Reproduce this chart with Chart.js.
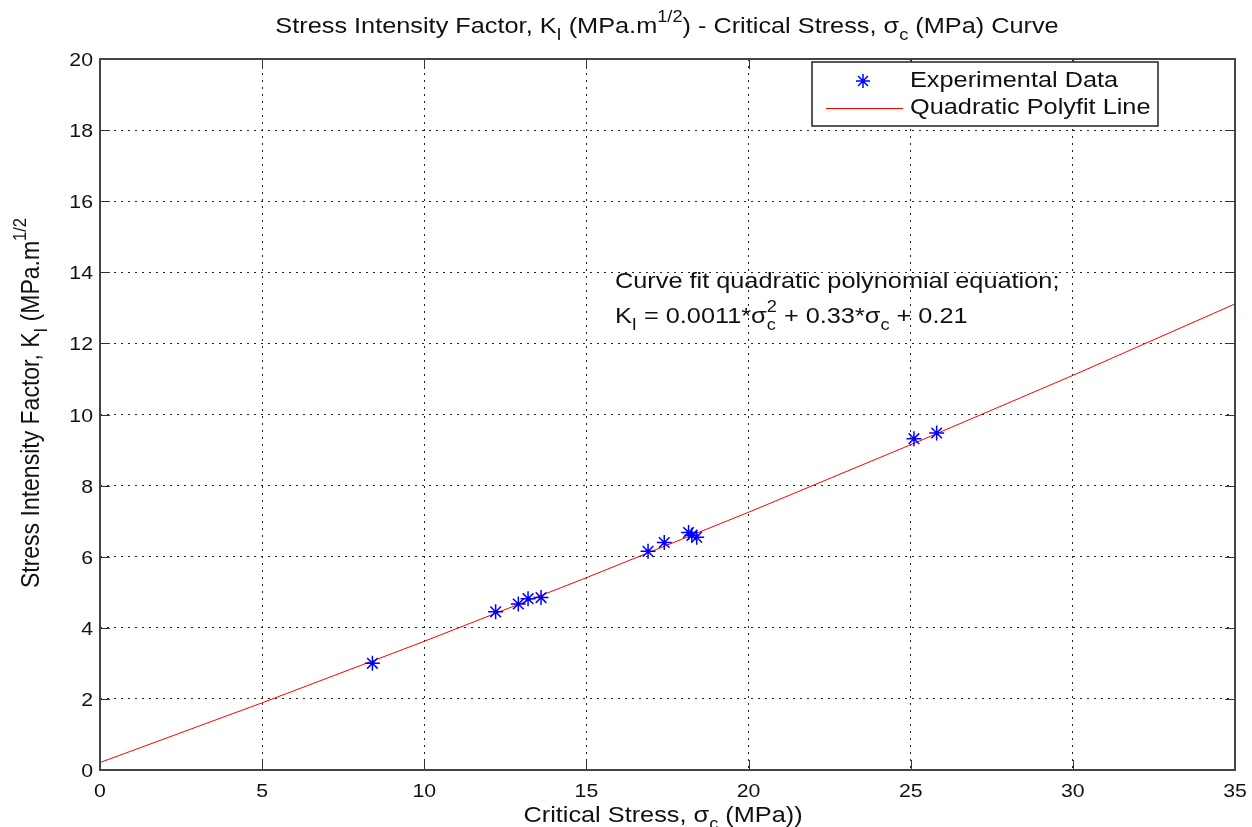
<!DOCTYPE html>
<html>
<head>
    <title>Stress Intensity Factor - Critical Stress Curve</title>
    <script src="https://cdn.jsdelivr.net/npm/chart.js@4.4.0/dist/chart.umd.min.js"></script>
    <style>
        body { margin: 0; background: #fff; }
        canvas { display: block; }
    </style>
</head>
<body>
    <canvas id="myChart" width="1252" height="827"></canvas>

    <script>
        // Data
        const stressX = [8.4, 12.2, 12.9, 13.2, 13.6, 16.9, 17.4, 18.15, 18.25, 18.4, 25.1, 25.8];
        const kValues = [3.0, 4.45, 4.67, 4.82, 4.85, 6.15, 6.4, 6.68, 6.6, 6.55, 9.32, 9.48];

        // Polyfit line, read at every 5 MPa
        const fitX = [0, 5, 10, 15, 20, 25, 30, 35];
        const fitK = [0.21, 1.89, 3.62, 5.41, 7.25, 9.15, 11.1, 13.11];

        const xTicks = [0, 5, 10, 15, 20, 25, 30, 35];
        const yTicks = [0, 2, 4, 6, 8, 10, 12, 14, 16, 18, 20];

        const FONT = '"Liberation Sans", Arial, sans-serif';
        const FS = 22;      // labels
        const TFS = 18.5;   // tick labels
        const SX = 1.15;    // the original text is a bit wide

        // text made of pieces, some sub/superscript
        function partStyle(p, size) {
            if (p[1] === 'sub') return { s: size * 0.72, dy: size * 0.32 };
            if (p[1] === 'sup' || p[1] === 'sup2') return { s: size * 0.72, dy: -size * 0.48 };
            return { s: size, dy: 0 };
        }
        function richWidth(ctx, parts, size) {
            let w = 0, last = 0;
            parts.forEach(p => {
                const st = partStyle(p, size);
                ctx.font = st.s + 'px ' + FONT;
                if (p[1] === 'sup2') w -= last;
                last = ctx.measureText(p[0]).width;
                w += last;
            });
            return w;
        }
        function richText(ctx, parts, x, y, size) {
            let cx = x, last = 0;
            ctx.textBaseline = 'alphabetic';
            ctx.textAlign = 'left';
            parts.forEach(p => {
                const st = partStyle(p, size);
                ctx.font = st.s + 'px ' + FONT;
                if (p[1] === 'sup2') cx -= last;
                ctx.fillText(p[0], cx, y + st.dy);
                last = ctx.measureText(p[0]).width;
                cx += last;
            });
        }
        // draw stretched text, align 'left' | 'center' | 'right'
        function wideText(ctx, parts, x, y, size, align) {
            const w = richWidth(ctx, parts, size) * SX;
            let x0 = x;
            if (align === 'center') x0 = x - w / 2;
            if (align === 'right') x0 = x - w;
            ctx.save();
            ctx.translate(x0, y);
            ctx.scale(SX, 1);
            richText(ctx, parts, 0, 0, size);
            ctx.restore();
        }

        const titleParts = [['Stress Intensity Factor, K'], ['I', 'sub'], [' (MPa.m'], ['1/2', 'sup'],
            [') - Critical Stress, \u03C3'], ['c', 'sub'], [' (MPa) Curve']];
        const xLabelParts = [['Critical Stress, \u03C3'], ['c', 'sub'], [' (MPa))']];
        const yLabelParts = [['Stress Intensity Factor, K'], ['I', 'sub'], [' (MPa.m'], ['1/2', 'sup']];
        const note1 = [['Curve fit quadratic polynomial equation;']];
        const note2 = [['K'], ['I', 'sub'], [' = 0.0011*\u03C3'], ['c', 'sub'], ['2', 'sup2'], [' + 0.33*\u03C3'], ['c', 'sub'], [' + 0.21']];

        const decor = {
            id: 'decor',
            afterDraw(chart) {
                const ctx = chart.ctx;
                const a = chart.chartArea;
                const xs = chart.scales.x, ys = chart.scales.y;
                ctx.save();

                // inward tick marks
                ctx.strokeStyle = '#333';
                ctx.lineWidth = 1;
                ctx.beginPath();
                xTicks.forEach(v => {
                    const px = Math.round(xs.getPixelForValue(v)) + 0.5;
                    ctx.moveTo(px, a.bottom); ctx.lineTo(px, a.bottom - 10);
                    ctx.moveTo(px, a.top); ctx.lineTo(px, a.top + 10);
                });
                yTicks.forEach(v => {
                    const py = Math.round(ys.getPixelForValue(v)) + 0.5;
                    ctx.moveTo(a.left, py); ctx.lineTo(a.left + 10, py);
                    ctx.moveTo(a.right, py); ctx.lineTo(a.right - 10, py);
                });
                ctx.stroke();

                // box
                ctx.strokeStyle = '#444';
                ctx.lineWidth = 2;
                ctx.strokeRect(a.left, a.top, a.right - a.left, a.bottom - a.top);

                // tick labels
                ctx.fillStyle = '#111';
                xTicks.forEach(v => {
                    wideText(ctx, [[String(v)]], xs.getPixelForValue(v), 797, TFS, 'center');
                });
                yTicks.forEach(v => {
                    wideText(ctx, [[String(v)]], 93, ys.getPixelForValue(v) + 7, TFS, 'right');
                });

                // legend
                const lx = 812, ly = 62, lw = 346, lh = 64;
                ctx.fillStyle = '#fff';
                ctx.fillRect(lx, ly, lw, lh);
                ctx.strokeStyle = '#222';
                ctx.lineWidth = 1.5;
                ctx.strokeRect(lx, ly, lw, lh);
                // star marker
                ctx.strokeStyle = '#0000ff';
                ctx.lineWidth = 1.5;
                const sx = 863, sy = 81, r = 7;
                ctx.beginPath();
                for (let k = 0; k < 4; k++) {
                    const ang = k * Math.PI / 4;
                    ctx.moveTo(sx - r * Math.cos(ang), sy - r * Math.sin(ang));
                    ctx.lineTo(sx + r * Math.cos(ang), sy + r * Math.sin(ang));
                }
                ctx.stroke();
                ctx.strokeStyle = '#ff0000';
                ctx.lineWidth = 1;
                ctx.beginPath();
                ctx.moveTo(826, 108.5); ctx.lineTo(903, 108.5);
                ctx.stroke();
                ctx.fillStyle = '#111';
                wideText(ctx, [['Experimental Data']], 910, 87, FS, 'left');
                wideText(ctx, [['Quadratic Polyfit Line']], 910, 114, FS, 'left');

                // title
                wideText(ctx, titleParts, 667, 33, FS, 'center');

                // x label
                wideText(ctx, xLabelParts, 663, 822, FS, 'center');

                // y label, rotated, stretched across its height
                ctx.save();
                ctx.translate(39, 403);
                ctx.rotate(-Math.PI / 2);
                ctx.scale(1, SX);
                const w = richWidth(ctx, yLabelParts, FS + 1);
                richText(ctx, yLabelParts, -w / 2, 0, FS + 1);
                ctx.restore();

                // equation note
                wideText(ctx, note1, 615, 288, FS, 'left');
                wideText(ctx, note2, 615, 323, FS, 'left');

                ctx.restore();
            }
        };

        const config = {
            type: 'scatter',
            data: {
                datasets: [{
                    label: 'Quadratic Polyfit Line',
                    data: fitX.map((x, i) => ({ x: x, y: fitK[i] })),
                    showLine: true,
                    borderColor: '#ff0000',
                    borderWidth: 1,
                    pointRadius: 0,
                    fill: false,
                    order: 2
                }, {
                    label: 'Experimental Data',
                    data: stressX.map((x, i) => ({ x: x, y: kValues[i] })),
                    pointStyle: 'star',
                    pointRadius: 7.5,
                    borderColor: '#0000ff',
                    backgroundColor: '#0000ff',
                    pointBorderWidth: 1.5,
                    order: 1
                }]
            },
            options: {
                responsive: false,
                animation: false,
                devicePixelRatio: 1,
                layout: { padding: { left: 0, top: 59, right: 17, bottom: 0 } },
                plugins: {
                    legend: { display: false },
                    title: { display: false },
                    tooltip: { enabled: false }
                },
                scales: {
                    x: {
                        type: 'linear',
                        min: 0, max: 35,
                        afterBuildTicks: s => { s.ticks = xTicks.map(v => ({ value: v })); },
                        afterFit: s => { s.height = 57; },
                        ticks: { display: false },
                        grid: { color: '#222', drawTicks: false, lineWidth: 1 },
                        border: { display: false, dash: [2, 5] }
                    },
                    y: {
                        min: 0, max: 20,
                        afterBuildTicks: s => { s.ticks = yTicks.map(v => ({ value: v })); },
                        afterFit: s => { s.width = 100; },
                        ticks: { display: false },
                        grid: { color: '#222', drawTicks: false, lineWidth: 1 },
                        border: { display: false, dash: [2, 5] }
                    }
                }
            },
            plugins: [decor]
        };

        const ctx = document.getElementById('myChart');
        new Chart(ctx, config);
    </script>
</body>
</html>
